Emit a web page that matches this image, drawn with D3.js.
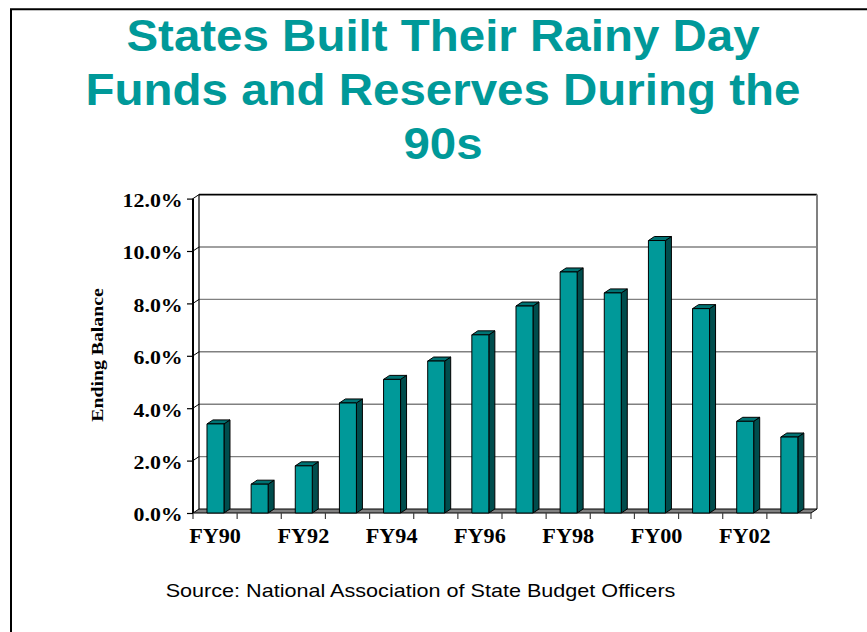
<!DOCTYPE html>
<html>
<head>
<meta charset="utf-8">
<script src="https://cdn.jsdelivr.net/npm/d3@7/dist/d3.min.js"></script>
<style>
  html, body { margin: 0; padding: 0; background: #ffffff; }
  svg { display: block; }
</style>
</head>
<body>
<svg id="chart" width="867" height="632"></svg>
<script>
// Fiscal years and ending balances (percent of expenditures)
const years = ["FY90","FY91","FY92","FY93","FY94","FY95","FY96","FY97","FY98","FY99","FY00","FY01","FY02","FY03"];
const balances = [3.4, 1.1, 1.8, 4.2, 5.1, 5.8, 6.8, 7.9, 9.2, 8.4, 10.4, 7.8, 3.5, 2.9];
const yTicks = [0, 2, 4, 6, 8, 10, 12];
const shownYears = ["FY90","FY92","FY94","FY96","FY98","FY00","FY02"];
const titleLines = ["States Built Their Rainy Day", "Funds and Reserves During the", "90s"];
const yLabel = "Ending Balance";
const sourceNote = "Source: National Association of State Budget Officers";

const svg = d3.select("#chart");
const teal = "#009999", tealTop = "#007373", tealSide = "#004d4d";

// 3-D depth offset of the plot box
const DX = 6, DY = -4;

const x = d3.scaleBand().domain(years).range([193, 811]).padding(0);
const y = d3.scaleLinear().domain([0, 12]).range([513, 198.6]);

// Page frame
svg.append("line").attr("x1", 11).attr("y1", 9).attr("x2", 11).attr("y2", 632)
  .attr("stroke", "#000").attr("stroke-width", 2);
svg.append("line").attr("x1", 10).attr("y1", 9.3).attr("x2", 867).attr("y2", 9.3)
  .attr("stroke", "#000").attr("stroke-width", 2);

// Title
const title = svg.append("g").attr("fill", teal)
  .attr("font-family", "'Liberation Sans', Arial, sans-serif")
  .attr("font-weight", "bold").attr("font-size", 45);
const baselines = [51, 105, 159];
titleLines.forEach((t, i) => {
  title.append("text")
    .attr("transform", `translate(443,${baselines[i]}) scale(1.055,1)`)
    .attr("text-anchor", "middle").text(t);
});

// Back wall gridlines and side-wall hooks
const x0 = x.range()[0], x1 = x.range()[1];
const grid = svg.append("g");
yTicks.filter(v => v > 0).forEach(v => {
  const yb = y(v) + DY;
  grid.append("line").attr("x1", x0 + DX).attr("x2", x1 + DX)
    .attr("y1", yb).attr("y2", yb)
    .attr("stroke", v === 12 ? "#000" : "#808080").attr("stroke-width", v === 12 ? 1.6 : 1.4);
  grid.append("line").attr("x1", x0).attr("y1", y(v)).attr("x2", x0 + DX).attr("y2", yb)
    .attr("stroke", "#000").attr("stroke-width", 1);
});
// Back wall edges
grid.append("line").attr("x1", x0 + DX).attr("x2", x0 + DX)
  .attr("y1", y(12) + DY).attr("y2", y(0) + DY).attr("stroke", "#000").attr("stroke-width", 1.2);
grid.append("line").attr("x1", x1 + DX).attr("x2", x1 + DX)
  .attr("y1", y(12) + DY).attr("y2", y(0) + DY).attr("stroke", "#808080").attr("stroke-width", 2);

// Floor
svg.append("polygon")
  .attr("points", [[x0, y(0)], [x0 + DX, y(0) + DY], [x1 + DX, y(0) + DY], [x1, y(0)]].join(" "))
  .attr("fill", "#808080").attr("stroke", "#000").attr("stroke-width", 1);

// Front value axis line
svg.append("line").attr("x1", x0).attr("x2", x0).attr("y1", y(0)).attr("y2", y(12))
  .attr("stroke", "#000").attr("stroke-width", 2);

// Category boundary ticks
svg.append("g").selectAll("line").data(d3.range(years.length + 1)).join("line")
  .attr("x1", i => x0 + i * x.step()).attr("x2", i => x0 + i * x.step())
  .attr("y1", y(0)).attr("y2", y(0) + 6)
  .attr("stroke", "#404040").attr("stroke-width", 1.2);

// Y axis
const yAxis = svg.append("g").attr("transform", `translate(${x0},0)`)
  .call(d3.axisLeft(y).tickValues(yTicks).tickSize(6).tickSizeOuter(0).tickPadding(3)
    .tickFormat(d => d3.format(".1f")(d) + "%"));
yAxis.select(".domain").remove();
yAxis.selectAll(".tick line").attr("stroke", "#000").attr("stroke-width", 1.2);
yAxis.selectAll(".tick text")
  .attr("font-family", "'Liberation Serif', 'Times New Roman', serif")
  .attr("font-weight", "bold").attr("font-size", 19).attr("fill", "#000")
  .attr("dy", "0.42em")
  .attr("transform", "scale(1.15,1)");

// X axis labels
const xAxis = svg.append("g").attr("transform", `translate(0,${y(0)})`)
  .call(d3.axisBottom(x).tickSize(0).tickPadding(16)
    .tickFormat(d => shownYears.includes(d) ? d : ""));
xAxis.select(".domain").remove();
xAxis.selectAll(".tick text")
  .attr("font-family", "'Liberation Serif', 'Times New Roman', serif")
  .attr("font-weight", "bold").attr("font-size", 20).attr("fill", "#000")
  .attr("dy", "0.71em")
  .attr("transform", "scale(1.11,1)")
  .attr("x", function() { return 0; });
// keep labels centred after horizontal stretch
xAxis.selectAll(".tick").each(function(d) {
  const cx = x(d) + x.bandwidth() / 2;
  d3.select(this).attr("transform", `translate(${cx},0)`);
});

// Bars (front face, top, side)
const bw = x.bandwidth() * 0.385, off = x.bandwidth() * 0.317;
const bars = svg.append("g");
years.forEach((yr, i) => {
  const bx = x(yr) + off, yv = y(balances[i]), yz = y(0);
  const g = bars.append("g").attr("stroke", "#000").attr("stroke-width", 1).attr("stroke-linejoin", "round");
  g.append("polygon")
    .attr("points", [[bx + bw, yv], [bx + bw + DX, yv + DY], [bx + bw + DX, yz + DY], [bx + bw, yz]].join(" "))
    .attr("fill", tealSide);
  g.append("polygon")
    .attr("points", [[bx, yv], [bx + DX, yv + DY], [bx + bw + DX, yv + DY], [bx + bw, yv]].join(" "))
    .attr("fill", tealTop);
  g.append("rect").attr("x", bx).attr("y", yv).attr("width", bw).attr("height", yz - yv)
    .attr("fill", teal);
});

// Axis title
svg.append("text")
  .attr("transform", "translate(103,355) rotate(-90) scale(1.2,1)")
  .attr("text-anchor", "middle")
  .attr("font-family", "'Liberation Serif', 'Times New Roman', serif")
  .attr("font-weight", "bold").attr("font-size", 16.5).attr("fill", "#000")
  .text(yLabel);

// Source note
svg.append("text")
  .attr("transform", "translate(420.5,597) scale(1.2,1)")
  .attr("text-anchor", "middle")
  .attr("font-family", "'Liberation Sans', Arial, sans-serif")
  .attr("font-size", 18).attr("fill", "#000")
  .text(sourceNote);
</script>
</body>
</html>
